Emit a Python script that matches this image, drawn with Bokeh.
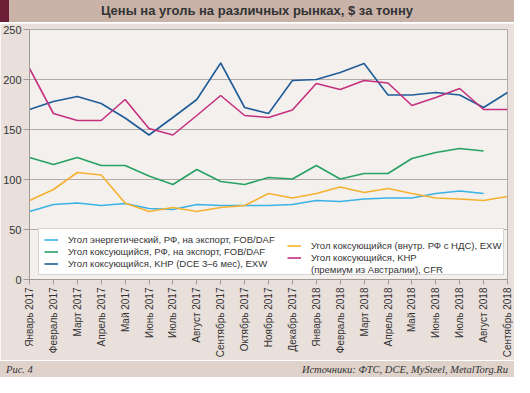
import math
from bokeh.plotting import figure
from bokeh.models import Range1d, FixedTicker, Legend, LegendItem, Div
from bokeh.layouts import column
from bokeh.embed import file_html
from bokeh.resources import INLINE

months = ["Январь 2017", "Февраль 2017", "Март 2017", "Апрель 2017", "Май 2017",
          "Июнь 2017", "Июль 2017", "Август 2017", "Сентябрь 2017", "Октябрь 2017",
          "Ноябрь 2017", "Декабрь 2017", "Январь 2018", "Февраль 2018", "Март 2018",
          "Апрель 2018", "Май 2018", "Июнь 2018", "Июль 2018", "Август 2018",
          "Сентябрь 2018"]

energy_rf_export = [68, 75, 76.5, 74, 76, 71, 70, 75, 74, 74, 74, 75, 79, 78, 80.5,
                    81.5, 81.5, 86, 88.5, 86]
coking_rf_export = [122, 115, 122, 114, 114, 103.5, 95, 110, 98, 95, 102, 100.5, 114,
                    100.5, 106, 106, 121, 127, 131, 128.5]
coking_khp_dce = [170, 178, 183, 176, 161.5, 144.5, 162, 180, 216.5, 172, 166, 199, 200,
                  207, 216, 184.5, 184.5, 187, 184.5, 172, 187]
coking_domestic = [79, 90, 107, 104.5, 76.5, 68, 72, 68, 72, 74, 86, 81.5, 86, 92.5, 87,
                   91, 86, 81.5, 80.5, 79, 83]
coking_khp_premium = [211, 166, 159, 159, 180, 151, 144.5, 164, 184, 164, 162, 169.5, 196,
                      190, 199, 196.5, 174, 182, 191, 170, 170]

y_ticks = [0, 50, 100, 150, 200, 250]

labels = ["Угол энергетический, РФ, на экспорт, FOB/DAF",
          "Угол коксующийся, РФ, на экспорт, FOB/DAF",
          "Угол коксующийся, KHP (DCE 3–6 мес), EXW",
          "Угол коксующийся (внутр. РФ с НДС), EXW",
          "Угол коксующийся, KHP",
          "(премиум из Австралии), CFR"]

colors = ["#3ab2e6", "#27a264", "#1f5d99", "#f5b130", "#c4307f"]

p = figure(width=514, height=337, output_backend="svg", toolbar_location=None,
           x_range=Range1d(0, len(months) - 1), y_range=Range1d(0, 250),
           min_border_left=26, min_border_right=7, min_border_top=6,
           min_border_bottom=76)
p.border_fill_color = "#e9e0db"
p.background_fill_color = "#f4f0ed"
p.outline_line_color = "#b3aaa5"

p.xaxis.ticker = FixedTicker(ticks=list(range(len(months))))
p.xaxis.major_label_overrides = {i: m for i, m in enumerate(months)}
p.xaxis.major_label_orientation = math.pi / 2
p.yaxis.ticker = FixedTicker(ticks=y_ticks)
for ax in (p.xaxis[0], p.yaxis[0]):
    ax.axis_line_color = "#a39a95"
    ax.major_tick_line_color = "#a39a95"
    ax.minor_tick_line_color = None
    ax.major_tick_in = 0
    ax.major_label_text_font = "Liberation Sans"
    ax.major_label_text_color = "#333333"
p.yaxis.major_tick_out = 6
p.yaxis.major_label_standoff = 2
p.yaxis.major_label_text_font_size = "11px"
p.xaxis.major_tick_out = 5
p.xaxis.major_label_standoff = 3
p.xaxis.major_label_text_font_size = "10px"
p.xgrid.visible = False
p.ygrid.grid_line_color = "#b3aaa5"

series = [energy_rf_export, coking_rf_export, coking_khp_dce, coking_domestic,
          coking_khp_premium]
renderers = []
for vals, col in zip(series, colors):
    r = p.line(x=list(range(len(vals))), y=vals, line_color=col, line_width=1.6)
    renderers.append(r)
blank = p.line(x=[], y=[], line_alpha=0)

common = dict(glyph_width=14, glyph_height=11, label_height=11, label_standoff=10,
              spacing=1, padding=5, margin=0,
              label_text_font="Liberation Sans", label_text_font_size="9.5px",
              label_text_color="#333333")

leg_left = Legend(items=[LegendItem(label=labels[i], renderers=[renderers[i]]) for i in range(3)],
                  location=(9, 4), label_width=430,
                  background_fill_color="white", background_fill_alpha=1,
                  border_line_color="#b3aaa5", border_line_width=1, **common)
leg_right = Legend(items=[LegendItem(label=labels[3], renderers=[renderers[3]]),
                          LegendItem(label=labels[4], renderers=[renderers[4]]),
                          LegendItem(label=labels[5], renderers=[blank])],
                   location=(258, 4), background_fill_alpha=0, border_line_color=None,
                   **common)
p.add_layout(leg_left)
p.add_layout(leg_right)

title = Div(text='<div style="width:514px;text-align:center;font:bold 13px \'Liberation Sans\';'
                 'color:#333;line-height:22px;">Цены на уголь на различных рынках, $ за тонну</div>',
            width=514, height=22,
            styles={"background": "linear-gradient(to right, #6b1e35 0px, #6b1e35 9px, #c9b3a9 9px)",
                    "margin": "0", "padding": "0"})
footer = Div(text='<div style="width:514px;box-sizing:border-box;display:flex;'
                  'justify-content:space-between;font:italic 10.5px \'Liberation Serif\';'
                  'color:#333;line-height:16px;padding:0 6px;"><span>Рис. 4</span>'
                  '<span>Источники: ФТС, DCE, MySteel, MetalTorg.Ru</span></div>',
             width=514, height=16,
             styles={"background-color": "#dfd2cb", "margin": "0", "padding": "0"})

layout = column(title, p, footer, spacing=1, styles={"background-color": "white"})

open("out.html", "w").write(file_html(layout, INLINE))
